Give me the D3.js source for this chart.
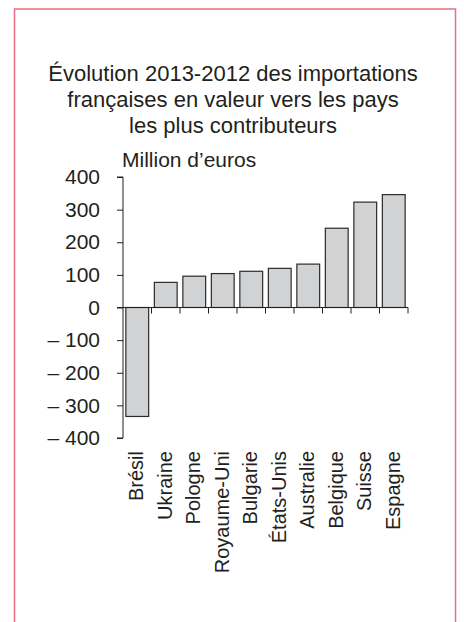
<!DOCTYPE html>
<html>
<head>
<meta charset="utf-8">
<script src="https://cdn.jsdelivr.net/npm/d3@7"></script>
<style>
  body { margin: 0; background: #fff; }
  text { font-family: "Liberation Sans", Arial, sans-serif; fill: #231f20; }
</style>
</head>
<body>
<div id="chart"></div>
<script>
const countries = ["Brésil", "Ukraine", "Pologne", "Royaume-Uni", "Bulgarie", "États-Unis", "Australie", "Belgique", "Suisse", "Espagne"]
const values = [-334, 77, 96, 104, 111, 120, 133, 243, 323, 346]
const yTicks = [400, 300, 200, 100, 0, -100, -200, -300, -400]
const titleLines = ["Évolution 2013-2012 des importations", "françaises en valeur vers les pays", "les plus contributeurs"]
const unitLabel = "Million d’euros"

const W = 464, H = 622
const plot = { left: 123, right: 408, top: 177, bottom: 438 }

const svg = d3.select("#chart")
              .append("svg")
              .attr("width", W)
              .attr("height", H)

// frame (open at the bottom)
svg.append("path")
   .attr("d", `M14.5,${H} V9 H455.5 V${H}`)
   .attr("fill", "none")
   .attr("stroke", "#ea6d84")
   .attr("stroke-width", 1.5)

svg.append("g")
   .selectAll("text")
   .data(titleLines)
   .join("text")
   .attr("x", 233)
   .attr("y", (d, i) => 81 + i * 26)
   .attr("text-anchor", "middle")
   .attr("font-size", 22)
   .text(d => d)

svg.append("text")
   .attr("x", 122)
   .attr("y", 167)
   .attr("font-size", 21)
   .text(unitLabel)

const xScale = d3.scaleBand()
                 .domain(countries)
                 .range([plot.left, plot.right])
                 .paddingInner(0.2)
                 .paddingOuter(0.1)

const yScale = d3.scaleLinear()
                 .domain([400, -400])
                 .range([plot.top, plot.bottom])

// bars
svg.append("g")
   .selectAll(".bar")
   .data(countries.map((c, i) => ({ country: c, value: values[i] })))
   .join("rect")
   .attr("class", "bar")
   .attr("x", d => xScale(d.country))
   .attr("y", d => yScale(Math.max(0, d.value)))
   .attr("width", xScale.bandwidth())
   .attr("height", d => Math.abs(yScale(d.value) - yScale(0)))
   .attr("fill", "#d1d2d4")
   .attr("stroke", "#2b2b2b")
   .attr("stroke-width", 1.2)

// y axis
const yAxis = d3.axisLeft(yScale)
                .tickValues(yTicks)
                .tickSize(6)
                .tickPadding(17)
                .tickFormat(d => d < 0 ? "– " + Math.abs(d) : d)

const gy = svg.append("g")
              .attr("transform", `translate(${plot.left},0)`)
              .call(yAxis)
gy.select(".domain").attr("stroke", "#231f20").attr("d", `M-6,${plot.top}H0V${plot.bottom}H-6`)
gy.selectAll(".tick line").attr("stroke", "#231f20")
gy.selectAll(".tick text")
  .attr("font-size", 21)
  .attr("font-family", "Liberation Sans, Arial, sans-serif")
  .attr("fill", "#231f20")

// x axis along zero, ticks at band boundaries
const step = xScale.step()
const boundaries = countries.map(c => xScale(c) + xScale.bandwidth() + step * xScale.paddingInner() / 2)
const gx = svg.append("g")
              .attr("transform", `translate(0,${yScale(0)})`)
gx.append("line")
  .attr("x1", plot.left - 6)
  .attr("x2", plot.right)
  .attr("stroke", "#231f20")
gx.selectAll(".xtick")
  .data(boundaries)
  .join("line")
  .attr("class", "xtick")
  .attr("x1", d => d)
  .attr("x2", d => d)
  .attr("y1", 0)
  .attr("y2", 6)
  .attr("stroke", "#231f20")

// category labels
svg.append("g")
   .selectAll("text")
   .data(countries)
   .join("text")
   .attr("transform", d => `translate(${xScale(d) + xScale.bandwidth() / 2 + 6},451) rotate(-90)`)
   .attr("text-anchor", "end")
   .attr("font-size", 20)
   .text(d => d)
</script>
</body>
</html>
